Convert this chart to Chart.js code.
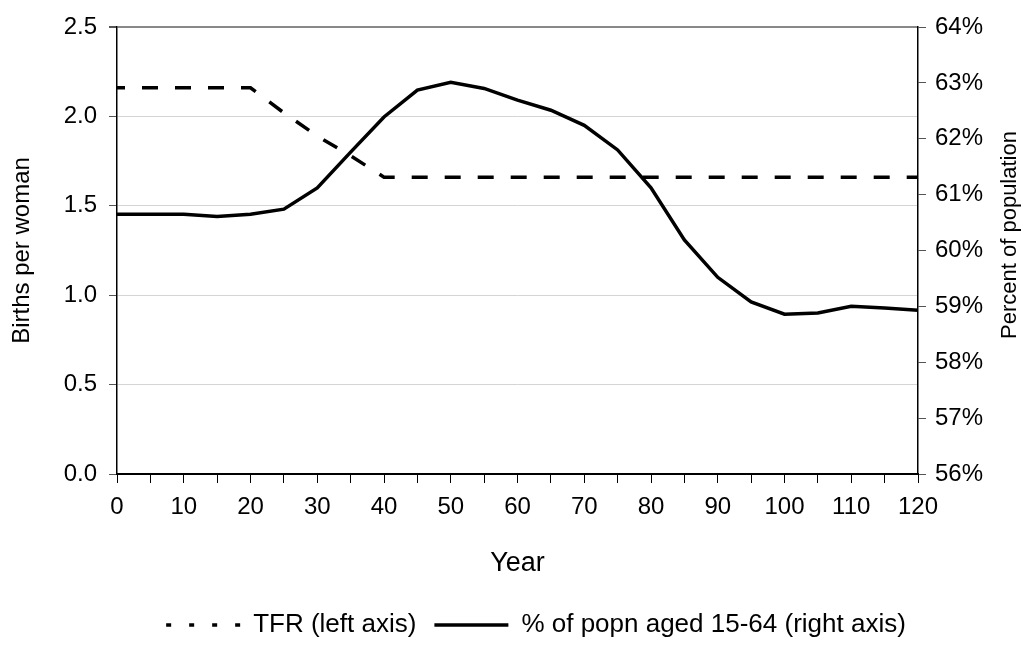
<!DOCTYPE html>
<html>
<head>
<meta charset="utf-8">
<script src="https://cdn.jsdelivr.net/npm/chart.js@4.4.0/dist/chart.umd.min.js"></script>
<style>
  html, body { margin: 0; padding: 0; background: #fff; }
  #wrap { width: 1024px; height: 650px; }
</style>
</head>
<body>
<div id="wrap"><canvas id="myChart" width="1024" height="650"></canvas></div>
<script>
// years along the bottom axis, one point every 5 years
const years = [0, 5, 10, 15, 20, 25, 30, 35, 40, 45, 50, 55, 60, 65, 70, 75, 80, 85, 90, 95, 100, 105, 110, 115, 120];

// total fertility rate, births per woman (left axis)
const tfr = [2.16, 2.16, 2.16, 2.16, 2.16, 2.02, 1.89, 1.78, 1.66, 1.66, 1.66, 1.66, 1.66,
             1.66, 1.66, 1.66, 1.66, 1.66, 1.66, 1.66, 1.66, 1.66, 1.66, 1.66, 1.66];

// share of population aged 15-64, percent (right axis)
const working_age = [60.65, 60.65, 60.65, 60.61, 60.65, 60.74, 61.12, 61.76, 62.39, 62.87, 63.01, 62.90, 62.69,
                     62.51, 62.24, 61.80, 61.12, 60.19, 59.52, 59.08, 58.86, 58.88, 59.00, 58.97, 58.93];

const series_labels = ['TFR (left axis)', '% of popn aged 15-64 (right axis)'];
const left_title = 'Births per woman';
const right_title = 'Percent of population';

const font_family = '"Liberation Sans", Arial, sans-serif';

function to_points(values) {
    return years.map((year, i) => ({ x: year, y: values[i] }));
}

// both side titles read bottom-to-top, chart.js turns the right one the other way
const side_titles = {
    id: 'side_titles',
    afterDraw(chart) {
        const c = chart.ctx;
        const area = chart.chartArea;
        c.save();
        c.fillStyle = '#000';
        c.textAlign = 'center';
        c.textBaseline = 'middle';

        c.save();
        c.translate(22, (area.top + area.bottom) / 2);
        c.rotate(-Math.PI / 2);
        c.font = '24px ' + font_family;
        c.fillText(left_title, 0, 0);
        c.restore();

        c.save();
        c.translate(1010, 235);
        c.rotate(-Math.PI / 2);
        c.font = '22px ' + font_family;
        c.fillText(right_title, 0, 0);
        c.restore();

        c.restore();
    }
};

const ctx = document.getElementById('myChart');

new Chart(ctx, {
    type: 'line',
    data: {
        datasets: [{
            label: series_labels[0],
            data: to_points(tfr),
            yAxisID: 'y',
            borderColor: '#000',
            backgroundColor: 'transparent',
            borderWidth: 3.5,
            borderDash: [16, 17],
            borderDashOffset: 8,
            pointRadius: 0,
            tension: 0
        }, {
            label: series_labels[1],
            data: to_points(working_age),
            yAxisID: 'y1',
            borderColor: '#000',
            backgroundColor: 'transparent',
            borderWidth: 3.5,
            pointRadius: 0,
            tension: 0
        }]
    },
    plugins: [side_titles],
    options: {
        responsive: false,
        animation: false,
        layout: {
            padding: { left: 48, right: 0, top: 27, bottom: 2 }
        },
        plugins: {
            tooltip: { enabled: false },
            legend: {
                position: 'bottom',
                labels: {
                    color: '#000',
                    usePointStyle: true,
                    pointStyle: 'line',
                    pointStyleWidth: 74,
                    padding: 18,
                    font: { family: font_family, size: 26 },
                    generateLabels: function (chart) {
                        const items = Chart.defaults.plugins.legend.labels.generateLabels(chart);
                        items.forEach((item, i) => {
                            item.pointStyle = 'line';
                            item.lineWidth = 3.5;
                            item.lineDash = i === 0 ? [5, 18] : [];
                            item.lineDashOffset = 0;
                        });
                        return items;
                    }
                }
            }
        },
        scales: {
            x: {
                type: 'linear',
                min: 0,
                max: 120,
                afterFit: function (scale) { scale.height = 120; },
                border: { color: '#000', width: 2 },
                grid: {
                    drawOnChartArea: false,
                    tickLength: 9,
                    color: '#000'
                },
                ticks: {
                    stepSize: 5,
                    color: '#000',
                    padding: 10,
                    maxRotation: 0,
                    autoSkip: false,
                    font: { family: font_family, size: 24 },
                    callback: function (value) {
                        return value % 10 === 0 ? value : '';
                    }
                },
                title: {
                    display: true,
                    text: 'Year',
                    color: '#000',
                    padding: { top: 10, bottom: 14 },
                    font: { family: font_family, size: 27 }
                }
            },
            y: {
                position: 'left',
                min: 0,
                max: 2.5,
                afterFit: function (scale) { scale.width = 69; },
                border: { color: '#000', width: 1.5 },
                grid: {
                    color: function (c) {
                        return c.tick && c.tick.value === 2.5 ? '#888' : '#d4d4d4';
                    },
                    lineWidth: function (c) {
                        return c.tick && c.tick.value === 2.5 ? 2 : 1;
                    },
                    tickColor: '#555',
                    tickLength: 8
                },
                ticks: {
                    stepSize: 0.5,
                    color: '#000',
                    padding: 12,
                    font: { family: font_family, size: 24 },
                    callback: function (value) {
                        return value.toFixed(1);
                    }
                }
            },
            y1: {
                position: 'right',
                min: 56,
                max: 64,
                afterFit: function (scale) { scale.width = 106; },
                border: { color: '#000', width: 1.5 },
                grid: {
                    drawOnChartArea: false,
                    color: '#555',
                    tickLength: 8
                },
                ticks: {
                    stepSize: 1,
                    color: '#000',
                    padding: 9,
                    font: { family: font_family, size: 24 },
                    callback: function (value) {
                        return value + '%';
                    }
                }
            }
        }
    }
});
</script>
</body>
</html>
